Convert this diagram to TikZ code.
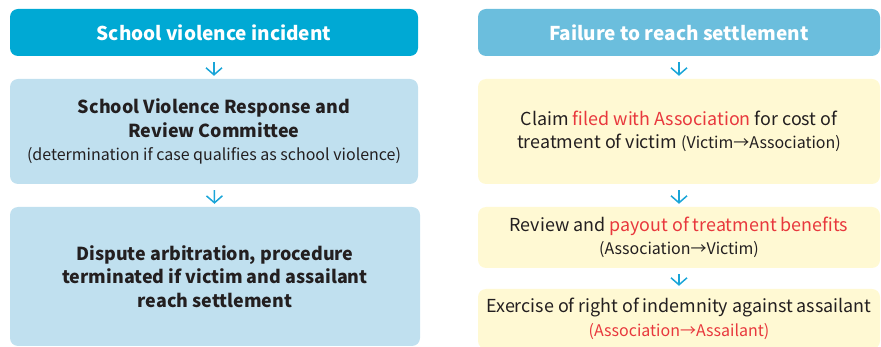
\documentclass[tikz,border=0pt]{standalone}
\usepackage{fontspec}
\setmainfont{Noto Sans CJK KR}
\usetikzlibrary{arrows.meta}
\definecolor{headA}{HTML}{00A9D4}
\definecolor{headB}{HTML}{6BBEDD}
\definecolor{lblue}{HTML}{C0E0EF}
\definecolor{lyellow}{HTML}{FFF9D3}
\definecolor{txt}{HTML}{231F20}
\definecolor{hl}{HTML}{E8383D}
\definecolor{arrc}{HTML}{1AA5D8}
\tikzset{
  box/.style={rounded corners=8pt, inner sep=0pt, align=center, text=txt, font=\fontsize{17.9}{23.5}\selectfont},
  head/.style={box, text=white, font=\fontsize{19}{23}\selectfont\bfseries},
  bluebox/.style={box, fill=lblue},
  yelbox/.style={box, fill=lyellow},
  arr/.style={draw=arrc, line width=1.5pt, -{Straight Barb[length=7pt,width=16pt]}, shorten <=6pt, shorten >=3pt},
}
\newcommand{\smallt}{\fontsize{16}{23.5}\selectfont}
\begin{document}
\begin{tikzpicture}[x=1pt,y=-1pt]
\useasboundingbox (0,0) rectangle (881,347);
% left column
\node[head, fill=headA, minimum width=408pt, minimum height=47pt] (l1) at (214,32.5) {School violence incident};
\node[bluebox, minimum width=408pt, minimum height=105pt] (l2) at (214,131.5)
  {\bfseries School Violence Response and\\ \bfseries Review Committee\\ \smallt (determination if case qualifies as school violence)};
\node[bluebox, minimum width=410pt, minimum height=139pt] (l3) at (215,276.5)
  {\bfseries Dispute arbitration, procedure\\ \bfseries terminated if victim and assailant\\ \bfseries reach settlement};
% right column
\node[head, fill=headB, minimum width=402pt, minimum height=47pt] (r1) at (679,32.5) {Failure to reach settlement};
\node[yelbox, minimum width=402pt, minimum height=105pt] (r2) at (679,131.5)
  {Claim \textcolor{hl}{filed with Association} for cost of\\ treatment of victim {\smallt(Victim→Association)}};
\node[yelbox, minimum width=402pt, minimum height=61pt] (r3) at (679,237.5)
  {Review and \textcolor{hl}{payout of treatment benefits}\\ \smallt (Association→Victim)};
\node[yelbox, minimum width=402pt, minimum height=60pt] (r4) at (679,319)
  {Exercise of right of indemnity against assailant\\ \smallt\color{hl}(Association→Assailant)};
% arrows
\draw[arr] (l1) -- (l2);
\draw[arr] (l2) -- (l3);
\draw[arr] (r1) -- (r2);
\draw[arr] (r2) -- (r3);
\draw[arr] (r3) -- (r4);
\end{tikzpicture}
\end{document}
